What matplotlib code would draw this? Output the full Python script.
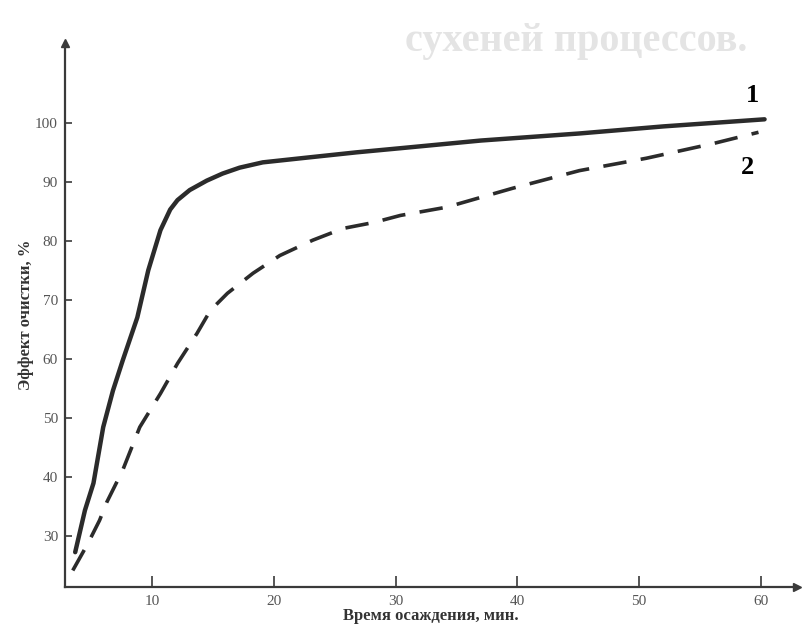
import matplotlib
matplotlib.use("Agg")
import matplotlib.pyplot as plt

plt.rcParams['font.family'] = ['Liberation Serif', 'DejaVu Serif']

# кривая 1 (сплошная) и кривая 2 (штриховая)
time_1 = [3.7, 4.5, 5.2, 6.0, 6.8, 7.6, 8.8, 9.7, 10.7, 11.5, 12.1, 13.1, 14.5,
          15.8, 17.2, 19.1, 22.7, 26.8, 30.4, 37.0, 45.1, 52.0, 60.3]
effect_1 = [27.3, 34.4, 39.0, 48.5, 54.7, 59.8, 67.1, 75.1, 81.9, 85.4, 87.0, 88.7, 90.3,
            91.5, 92.5, 93.4, 94.2, 95.1, 95.8, 97.1, 98.3, 99.5, 100.7]

time_2 = [3.5, 4.75, 5.7, 6.3, 7.6, 9.0, 10.7, 12.1, 13.7, 14.8, 16.2, 18.3,
          20.5, 23.2, 25.7, 28.2, 30.4, 34.2, 39.6, 45.1, 50.6, 56.1, 59.8]
effect_2 = [24.2, 28.8, 32.7, 35.8, 41.2, 48.5, 54.2, 59.3, 64.4, 68.3, 71.2, 74.6,
            77.6, 80.2, 82.2, 83.2, 84.4, 85.8, 89.0, 92.0, 94.1, 96.6, 98.5]

x_ticks = [10, 20, 30, 40, 50, 60]
y_ticks = [30, 40, 50, 60, 70, 80, 90, 100]

ink = '#2b2b2b'

fig = plt.figure(figsize=(8.10, 6.33), dpi=100)
ax = fig.add_axes([0.0802, 0.0727, 0.9037, 0.859])

# бледный след текста с обратной стороны страницы
fig.text(0.50, 0.935, 'сухеней процессов.', fontsize=29, color='#e4e4e4',
         fontweight='bold', ha='left', va='center')

ax.plot(time_1, effect_1, color=ink, lw=3.2, solid_capstyle='round',
        solid_joinstyle='round')
ax.plot(time_2, effect_2, color=ink, lw=2.6, dashes=(6.5, 4))

ax.set_xlim(2.86, 62.96)
ax.set_ylim(21.4, 113.6)

for s in ['top', 'right']:
    ax.spines[s].set_visible(False)
for s in ['left', 'bottom']:
    ax.spines[s].set_color('#3a3a3a')
    ax.spines[s].set_linewidth(1.6)

# стрелки на концах осей
ax.plot(1, 0, '>', color='#3a3a3a', ms=6, transform=ax.transAxes, clip_on=False)
ax.plot(0, 1, '^', color='#3a3a3a', ms=6, transform=ax.transAxes, clip_on=False)

ax.set_xticks(x_ticks)
ax.set_yticks(y_ticks)
ax.tick_params(axis='x', direction='in', length=8, width=1.2, color='#3a3a3a',
               labelsize=11, labelcolor='#555555', pad=6)
ax.tick_params(axis='y', direction='in', length=5, width=1.2, color='#3a3a3a',
               labelsize=11, labelcolor='#555555', pad=5)

ax.set_xlabel('Время осаждения, мин.', fontsize=12, color='#333333', labelpad=0,
              fontweight='bold')
ax.set_ylabel('Эффект очистки, %', fontsize=12, color='#333333', labelpad=1,
              fontweight='bold')

ax.text(59.35, 104.7, '1', fontsize=19, fontweight='bold', color='black',
        ha='center', va='center')
ax.text(58.9, 92.5, '2', fontsize=19, fontweight='bold', color='black',
        ha='center', va='center')

fig.savefig('out.png', dpi=100)
